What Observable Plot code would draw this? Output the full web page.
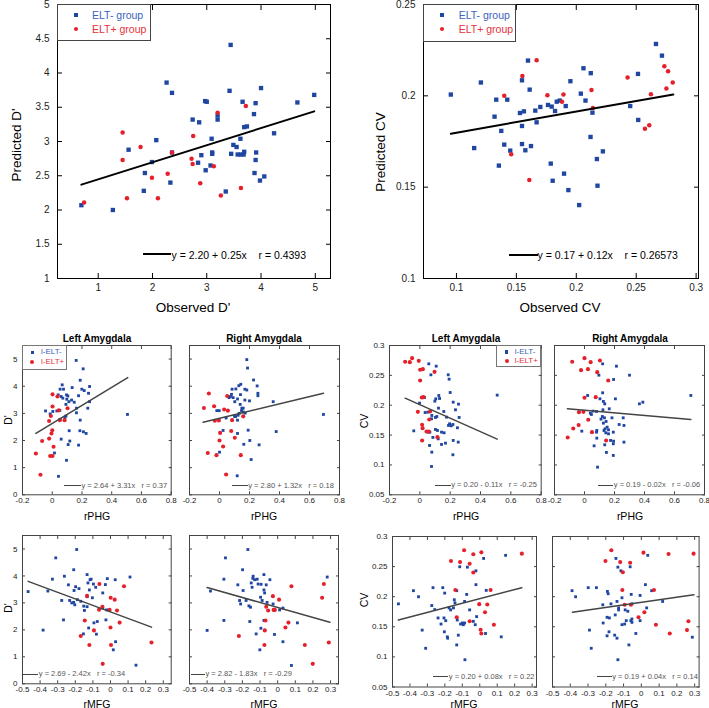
<!DOCTYPE html>
<html><head><meta charset="utf-8">
<script src="https://cdn.jsdelivr.net/npm/d3@7"></script>
<script src="https://cdn.jsdelivr.net/npm/@observablehq/plot@0.6"></script>
<style>
body{margin:0;background:#fff;font-family:"Liberation Sans",Arial,sans-serif;}
#root{position:relative;width:709px;height:708px;overflow:hidden;background:#fff;}
.abs{position:absolute;white-space:pre;line-height:1;}
</style></head><body><div id="root"></div>
<script>
// ---------- tick values ----------
const tlXTicks = [1,2,3,4,5];
const tlYTicks = [1,1.5,2,2.5,3,3.5,4,4.5,5];
const trXTicks = [0.1,0.15,0.2,0.25,0.3];
const trYTicks = [0.1,0.15,0.2,0.25];
const phgTicks = [-0.2,0,0.2,0.4,0.6,0.8];
const mfgTicks = [-0.5,-0.4,-0.3,-0.2,-0.1,0,0.1,0.2,0.3];
const dTicks = [0,1,2,3,4,5];
const cvTicks = [0.05,0.1,0.15,0.2,0.25,0.3];

// ---------- top-left: Observed D' vs Predicted D' ----------
const tlBlue = [[0.69,2.07],[1.27,2.00],[1.56,2.88],[1.84,2.28],[1.86,2.54],[1.99,2.70],[2.07,3.02],[2.26,3.86],[2.36,3.71],[2.33,2.40],[2.36,2.84],[2.74,3.32],[2.86,3.28],[2.84,2.69],[2.90,2.80],[2.97,3.59],[3.00,3.58],[2.98,2.58],[3.07,2.65],[3.09,3.04],[3.10,2.84],[3.10,2.82],[3.20,3.38],[3.20,3.32],[3.35,2.27],[3.44,4.41],[3.42,3.74],[3.45,2.82],[3.49,2.95],[3.55,2.92],[3.57,2.81],[3.62,3.04],[3.63,2.81],[3.66,3.58],[3.68,2.81],[3.69,2.85],[3.69,3.21],[3.74,3.22],[3.90,3.56],[3.87,3.40],[3.91,2.84],[3.90,2.73],[3.88,2.54],[3.98,2.43],[4.00,3.78],[4.06,2.49],[4.24,3.12],[4.67,3.57],[4.98,3.68]];
const tlRed = [[0.74,2.11],[1.45,3.13],[1.45,2.73],[1.53,2.17],[1.78,2.92],[1.99,2.47],[2.10,2.17],[2.28,2.53],[2.36,2.84],[2.72,2.75],[2.74,2.67],[2.75,3.08],[2.88,2.39],[3.13,2.64],[3.20,3.42],[3.26,2.21],[3.63,2.32],[3.72,3.52]];
const tlLine = [[0.69,2.37],[4.98,3.44]];

// ---------- top-right: Observed CV vs Predicted CV ----------
const trBlue = [[0.0953,0.2007],[0.1148,0.1714],[0.1204,0.2073],[0.1318,0.1886],[0.1332,0.1979],[0.1354,0.1618],[0.1374,0.1808],[0.1399,0.1733],[0.1424,0.1979],[0.1449,0.1700],[0.1530,0.1906],[0.1547,0.2085],[0.1547,0.1835],[0.1547,0.1736],[0.1563,0.1915],[0.1575,0.1702],[0.1597,0.2193],[0.1611,0.2034],[0.1622,0.1725],[0.1658,0.1919],[0.1669,0.1855],[0.1700,0.1939],[0.1764,0.1950],[0.1787,0.1629],[0.1795,0.1941],[0.1803,0.1535],[0.1823,0.1917],[0.1837,0.1968],[0.1862,0.1974],[0.1898,0.1574],[0.1912,0.1944],[0.1934,0.1484],[0.1951,0.2080],[0.2024,0.1402],[0.2038,0.2012],[0.2060,0.2151],[0.2077,0.1974],[0.2121,0.2124],[0.2119,0.1775],[0.2135,0.1908],[0.2172,0.1654],[0.2177,0.1508],[0.2222,0.1696],[0.2450,0.1944],[0.2515,0.2120],[0.2517,0.1868],[0.2665,0.2284],[0.2715,0.2220]];
const trRed = [[0.1399,0.2000],[0.1457,0.1680],[0.1550,0.2109],[0.1608,0.1539],[0.1669,0.2195],[0.1759,0.2003],[0.1893,0.2007],[0.1881,0.1967],[0.2127,0.2032],[0.2138,0.1934],[0.2428,0.2100],[0.2573,0.1820],[0.2609,0.1839],[0.2623,0.2009],[0.2735,0.2162],[0.2766,0.2135],[0.2752,0.2040],[0.2805,0.2073]];
const trLine = [[0.0953,0.1793],[0.281,0.2007]];

// ---------- P1: Left Amygdala, D' vs rPHG ----------
const p1Blue = [[0.161,4.95],[0.208,4.64],[0.067,4.05],[0.188,4.22],[0.053,3.89],[0.076,3.89],[0.134,3.95],[0.199,3.89],[0.215,3.84],[0.251,3.99],[0.040,3.68],[0.060,3.62],[0.071,3.56],[0.096,3.68],[0.105,3.64],[0.098,3.52],[0.112,3.43],[0.130,3.49],[0.148,3.41],[0.177,3.65],[0.244,3.74],[0.251,3.43],[0.092,3.33],[0.163,3.19],[0.163,3.02],[0.239,3.19],[-0.045,3.09],[-0.014,2.98],[0.004,3.07],[0.031,3.09],[0.051,3.11],[0.085,2.85],[0.092,2.90],[0.053,2.78],[0.188,2.75],[0.506,2.96],[0.114,2.36],[0.186,2.36],[0.210,2.32],[0.228,2.26],[0.060,2.05],[0.118,1.98],[0.107,1.85],[0.177,1.83],[0.015,1.54],[0.096,1.27],[0.042,0.68]];
const p1Red = [[0.002,3.70],[0.035,3.62],[0.002,3.25],[0.044,3.11],[0.103,3.19],[-0.009,2.90],[-0.021,2.72],[0.051,2.75],[0.083,2.75],[0.000,2.38],[-0.005,2.26],[-0.021,2.07],[-0.068,1.98],[0.009,1.77],[-0.014,1.43],[0.002,1.43],[-0.110,1.52],[-0.079,0.74]];
const p1Line = [[-0.110,2.26],[0.508,4.32]];

// ---------- P2: Right Amygdala, D' vs rPHG ----------
const p2Blue = [[0.182,4.98],[0.187,4.67],[0.227,4.23],[0.251,4.01],[0.256,3.74],[0.256,3.65],[0.142,4.07],[0.129,4.02],[0.084,3.89],[0.109,3.90],[0.169,3.89],[0.182,3.86],[0.080,3.70],[0.073,3.62],[0.091,3.58],[0.120,3.53],[0.140,3.69],[0.064,3.58],[0.102,3.43],[0.169,3.49],[0.200,3.46],[0.138,3.33],[0.149,3.19],[0.158,3.19],[0.147,3.10],[0.158,3.05],[0.171,3.01],[0.131,3.00],[0.124,2.93],[0.100,2.89],[0.107,2.88],[0.044,2.83],[-0.018,3.10],[-0.002,3.10],[0.358,3.43],[0.693,2.96],[0.120,2.75],[0.024,2.37],[0.191,2.38],[0.378,2.33],[0.120,2.26],[0.202,2.00],[0.162,1.86],[0.264,1.84],[0.000,1.57],[0.211,1.30],[0.118,0.70]];
const p2Red = [[-0.071,3.73],[0.051,3.64],[-0.036,3.26],[-0.104,3.20],[0.031,3.14],[0.056,3.10],[0.158,2.89],[-0.004,2.74],[-0.031,2.73],[0.084,2.75],[0.004,2.28],[0.078,2.35],[0.102,2.10],[0.000,2.00],[0.024,1.78],[-0.078,1.54],[-0.020,1.46],[0.142,1.46],[0.044,0.75]];
const p2Line = [[-0.109,2.67],[0.693,3.74]];

// ---------- P3: Left Amygdala, CV vs rPHG ----------
const p3Blue = [[0.059,0.2693],[0.108,0.2654],[0.073,0.2509],[0.187,0.2509],[0.193,0.2436],[0.200,0.2213],[0.125,0.2163],[0.130,0.2113],[0.105,0.2107],[0.099,0.2068],[0.031,0.2129],[0.220,0.2051],[0.255,0.2018],[0.510,0.2169],[-0.002,0.2035],[0.123,0.1951],[0.235,0.1923],[0.158,0.1895],[0.035,0.1878],[0.053,0.1884],[0.079,0.1828],[0.112,0.1811],[0.103,0.1795],[0.077,0.1772],[0.176,0.1800],[0.259,0.1795],[0.196,0.1689],[0.207,0.1655],[0.218,0.1677],[0.189,0.1661],[0.248,0.1622],[-0.040,0.1571],[0.103,0.1594],[0.116,0.1577],[0.066,0.1549],[0.055,0.1549],[0.160,0.1538],[0.143,0.1549],[0.086,0.1460],[0.121,0.1437],[0.220,0.1410],[0.253,0.1382],[0.169,0.1365],[0.143,0.1343],[0.064,0.1326],[0.079,0.1214],[0.218,0.1170],[0.077,0.0974]];
const p3Red = [[-0.097,0.2727],[-0.066,0.2721],[-0.051,0.2788],[-0.007,0.2743],[0.002,0.2593],[0.020,0.2604],[0.097,0.2559],[0.002,0.2414],[0.013,0.2129],[0.024,0.2135],[-0.013,0.1889],[0.068,0.1895],[0.062,0.1761],[0.015,0.1672],[0.018,0.1616],[0.044,0.1560],[0.015,0.1410],[0.116,0.1465],[0.059,0.1560]];
const p3Line = [[-0.097,0.2118],[0.510,0.1432]];

// ---------- P4: Right Amygdala, CV vs rPHG ----------
const p4Blue = [[0.121,0.2693],[0.213,0.2654],[0.300,0.2503],[0.096,0.2503],[0.194,0.2431],[0.121,0.2208],[0.021,0.2163],[0.206,0.2107],[0.103,0.2107],[0.126,0.2063],[0.135,0.2023],[0.366,0.2023],[0.389,0.2051],[0.709,0.2163],[0.165,0.1940],[0.123,0.1923],[0.057,0.1901],[0.080,0.1895],[0.039,0.1867],[0.046,0.1845],[0.119,0.1811],[0.133,0.1789],[0.183,0.1789],[0.258,0.1789],[0.110,0.1767],[0.144,0.1728],[0.126,0.1700],[0.231,0.1677],[0.263,0.1661],[0.151,0.1633],[0.137,0.1605],[0.160,0.1588],[0.130,0.1577],[0.082,0.1577],[0.080,0.1549],[-0.018,0.1566],[0.142,0.1538],[0.160,0.1521],[0.192,0.1549],[0.082,0.1449],[0.174,0.1410],[0.194,0.1398],[0.263,0.1382],[0.135,0.1337],[0.192,0.1354],[0.064,0.1320],[0.146,0.1209],[0.192,0.1159],[0.087,0.0963]];
const p4Red = [[-0.082,0.2727],[0.000,0.2788],[0.041,0.2721],[0.103,0.2749],[-0.023,0.2587],[0.023,0.2604],[0.085,0.2554],[0.158,0.2414],[0.000,0.2124],[0.075,0.2135],[-0.037,0.1884],[-0.007,0.1889],[0.025,0.1756],[-0.039,0.1667],[-0.075,0.1611],[0.050,0.1549],[-0.112,0.1460],[0.144,0.1410]];
const p4Line = [[-0.114,0.194],[0.709,0.1761]];

// ---------- P5: Left Amygdala, D' vs rMFG ----------
const p5Blue = [[-0.192,4.98],[-0.311,4.67],[-0.209,4.23],[-0.262,3.99],[-0.330,3.88],[-0.133,4.05],[-0.116,3.86],[-0.110,3.88],[-0.018,3.90],[0.027,3.86],[0.111,3.96],[-0.239,3.67],[-0.198,3.60],[-0.179,3.53],[-0.128,3.74],[-0.097,3.70],[-0.084,3.58],[-0.029,3.68],[-0.120,3.48],[-0.207,3.46],[-0.356,3.44],[-0.468,3.42],[-0.044,3.37],[-0.133,3.23],[-0.103,3.19],[-0.277,3.09],[-0.232,3.09],[-0.188,3.12],[-0.220,3.00],[-0.203,2.93],[-0.209,3.02],[-0.169,3.06],[-0.152,2.88],[-0.133,2.86],[-0.044,2.81],[-0.148,2.72],[-0.022,2.74],[-0.267,2.37],[-0.075,2.31],[-0.026,2.37],[-0.094,2.26],[-0.154,1.85],[-0.124,2.07],[-0.080,1.84],[0.029,1.56],[0.016,1.26],[-0.383,1.99],[0.145,0.69]];
const p5Red = [[-0.063,3.70],[0.077,3.62],[-0.133,3.26],[0.001,3.19],[0.024,3.12],[-0.046,2.86],[-0.065,2.75],[-0.005,2.74],[0.037,2.72],[-0.146,2.35],[0.052,2.27],[0.000,2.09],[-0.094,1.98],[-0.169,1.77],[-0.120,1.44],[0.003,1.44],[0.233,1.53],[-0.044,0.74]];
const p5Line = [[-0.468,3.80],[0.233,2.10]];

// ---------- P6: Right Amygdala, D' vs rMFG ----------
const p6Blue = [[-0.169,4.98],[-0.296,4.67],[-0.199,4.23],[-0.139,3.99],[-0.305,3.88],[-0.078,4.05],[-0.150,3.74],[-0.141,3.91],[-0.130,3.86],[-0.116,3.88],[-0.044,3.86],[-0.111,3.70],[-0.094,3.69],[-0.065,3.67],[-0.226,3.67],[-0.145,3.58],[-0.196,3.46],[-0.381,3.44],[-0.078,3.48],[-0.074,3.37],[-0.097,3.21],[0.281,3.96],[-0.216,3.09],[-0.179,3.09],[-0.210,2.96],[-0.163,2.89],[-0.154,2.84],[-0.088,3.09],[-0.060,3.02],[-0.026,2.96],[0.011,2.74],[0.030,2.81],[-0.305,2.35],[-0.158,2.31],[-0.078,2.35],[-0.072,2.35],[-0.095,2.06],[-0.122,1.85],[-0.018,1.83],[0.030,1.56],[-0.101,1.26],[0.112,2.26],[-0.400,1.98],[0.078,0.68]];
const p6Red = [[0.262,3.70],[0.078,3.62],[0.252,3.19],[-0.027,3.25],[0.008,3.12],[-0.065,2.86],[-0.054,2.72],[-0.023,2.74],[-0.016,2.74],[-0.069,2.35],[0.061,2.27],[0.044,2.09],[-0.073,1.98],[-0.220,1.77],[-0.075,1.44],[0.154,1.44],[0.290,1.53],[0.199,0.74]];
const p6Line = [[-0.400,3.57],[0.296,2.28]];

// ---------- P7: Left Amygdala, CV vs rMFG ----------
const p7Blue = [[0.148,0.2687],[0.022,0.2636],[-0.022,0.2430],[-0.115,0.2497],[-0.071,0.2491],[-0.022,0.2200],[-0.380,0.2100],[-0.268,0.2150],[-0.212,0.2150],[-0.132,0.2100],[0.037,0.2105],[-0.351,0.1999],[-0.201,0.2060],[-0.075,0.2038],[-0.087,0.1921],[-0.146,0.1949],[-0.142,0.1898],[-0.275,0.1853],[-0.466,0.1881],[-0.258,0.1786],[-0.176,0.1814],[-0.167,0.1781],[-0.151,0.1814],[-0.058,0.1781],[-0.239,0.1647],[-0.205,0.1647],[-0.222,0.1546],[-0.195,0.1602],[-0.129,0.1613],[-0.094,0.1535],[-0.100,0.1563],[-0.110,0.1546],[-0.087,0.1563],[-0.037,0.1591],[-0.026,0.1535],[-0.018,0.1669],[0.033,0.1389],[-0.330,0.1445],[-0.203,0.1417],[-0.186,0.1333],[-0.184,0.1311],[-0.123,0.1361],[0.123,0.1333],[-0.132,0.1199],[-0.310,0.1143],[-0.085,0.0953]];
const p7Red = [[-0.090,0.2771],[-0.037,0.2704],[0.009,0.2737],[-0.165,0.2592],[-0.113,0.2575],[-0.058,0.2547],[-0.037,0.2402],[0.241,0.2715],[-0.140,0.2111],[0.062,0.2111],[-0.003,0.1876],[0.043,0.1870],[0.030,0.1742],[-0.132,0.1658],[-0.058,0.1591],[0.005,0.1451],[0.009,0.1389],[0.081,0.1535]];
const p7Line = [[-0.466,0.1613],[0.241,0.2150]];

// ---------- P8: Right Amygdala, CV vs rMFG ----------
const p8Blue = [[-0.143,0.2636],[0.036,0.2687],[-0.063,0.2497],[-0.132,0.2491],[-0.115,0.2430],[-0.390,0.2100],[-0.299,0.2150],[-0.253,0.2150],[-0.191,0.2088],[-0.187,0.2049],[-0.370,0.1999],[-0.109,0.1982],[0.023,0.2200],[0.058,0.2100],[-0.057,0.2038],[-0.007,0.2021],[-0.137,0.1921],[-0.217,0.1865],[-0.171,0.1881],[-0.053,0.1881],[0.120,0.1921],[0.030,0.1814],[-0.128,0.1814],[-0.128,0.1781],[-0.091,0.1781],[-0.076,0.1758],[-0.193,0.1658],[-0.215,0.1563],[-0.180,0.1647],[-0.147,0.1697],[-0.085,0.1602],[-0.094,0.1546],[-0.109,0.1535],[-0.059,0.1602],[-0.053,0.1574],[-0.053,0.1630],[-0.007,0.1602],[-0.292,0.1445],[-0.182,0.1417],[-0.193,0.1350],[-0.150,0.1361],[-0.031,0.1389],[-0.137,0.1311],[-0.070,0.1199],[-0.282,0.1143],[-0.132,0.0953],[0.287,0.1327]];
const p8Red = [[-0.202,0.2592],[-0.169,0.2771],[-0.119,0.2575],[-0.104,0.2407],[-0.063,0.2564],[0.012,0.2732],[0.153,0.2709],[0.294,0.2715],[-0.107,0.2111],[0.071,0.2111],[-0.094,0.1865],[-0.059,0.1865],[0.017,0.1742],[-0.016,0.1658],[0.265,0.1591],[0.257,0.1445],[0.082,0.1535],[0.160,0.1389]];
const p8Line = [[-0.388,0.1742],[0.296,0.2032]];

// ---------- texts ----------
const eqTL = "y = 2.20 + 0.25x    r = 0.4393";
const eqTR = "y = 0.17 + 0.12x    r = 0.26573";
const eqSmall = ["y = 2.64 + 3.31x   r = 0.37","y = 2.80 + 1.32x   r = 0.18","y = 0.20 - 0.11x   r = -0.25","y = 0.19 - 0.02x   r = -0.06",
                 "y = 2.69 - 2.42x   r = -0.34","y = 2.82 - 1.83x   r = -0.29","y = 0.20 + 0.08x   r = 0.22","y = 0.19 + 0.04x   r = 0.14"];

const BLUE = "#1f46a0", RED = "#e5202b", BLUE_T = "#3b62bd", RED_T = "#e5323a";
const FONT = "Liberation Sans, Arial, sans-serif";
const root = document.getElementById("root");
const fmt = d => String(d);
const X = d => d[0], Y = d => d[1];

function txt(s, x, y, o = {}) {
  const el = document.createElement("div");
  el.className = "abs";
  el.textContent = s;
  el.style.fontSize = (o.fs || 10) + "px";
  el.style.color = o.color || "#000";
  if (o.bold) el.style.fontWeight = "bold";
  el.style.left = x + "px"; el.style.top = y + "px";
  const tr = [];
  if (o.anchor === "middle") tr.push("translateX(-50%)");
  tr.push("translateY(-50%)");
  if (o.rotate) tr.push("rotate(-90deg)");
  el.style.transform = tr.join(" ");
  root.appendChild(el);
  return el;
}
function box(x, y, w, h, style) {
  const el = document.createElement("div");
  el.style.position = "absolute";
  el.style.left = x + "px"; el.style.top = y + "px";
  el.style.width = w + "px"; el.style.height = h + "px";
  Object.assign(el.style, style);
  root.appendChild(el);
  return el;
}

function panel(p) {
  const ml = 45, mr = 12, mt = 12, mb = 28;
  const w = p.x1 - p.x0, h = p.y1 - p.y0, tl = p.tick, col = p.frameColor;
  const marks = [
    Plot.axisX({ticks: p.xTicks, anchor: "bottom", tickSize: 0, tickPadding: p.padX, tickFormat: fmt, label: null, fontSize: p.fs, color: "#222"}),
    Plot.axisX({ticks: p.xTicks, anchor: "bottom", tickSize: tl, dy: -tl, tickFormat: () => "", label: null, color: col}),
    Plot.axisX({ticks: p.xTicks, anchor: "top", tickSize: tl, dy: tl, tickFormat: () => "", label: null, color: col}),
    Plot.axisY({ticks: p.yTicks, anchor: "left", tickSize: tl, dx: tl, tickFormat: () => "", label: null, color: col}),
    Plot.axisY({ticks: p.yTicks, anchor: "right", tickSize: tl, dx: -tl, tickFormat: () => "", label: null, color: col}),
    Plot.dot(p.blue, {x: X, y: Y, symbol: "square", r: p.rb, fill: BLUE, stroke: "none"}),
    Plot.dot(p.red, {x: X, y: Y, symbol: "circle", r: p.rr, fill: RED, stroke: "none"}),
    Plot.line(p.line, {x: X, y: Y, stroke: p.lineColor, strokeWidth: p.lineWidth}),
    Plot.frame({stroke: col})
  ];
  if (p.showY !== false) {
    marks.unshift(Plot.axisY({ticks: p.yTicks, anchor: "left", tickSize: 0, tickPadding: p.padY, tickFormat: fmt, label: null, fontSize: p.fs, color: "#222"}));
  }
  const chart = Plot.plot({
    width: w + ml + mr, height: h + mt + mb,
    marginLeft: ml, marginRight: mr, marginTop: mt, marginBottom: mb,
    style: {background: "transparent", overflow: "visible", fontFamily: FONT},
    x: {domain: p.xDomain}, y: {domain: p.yDomain},
    marks
  });
  chart.style.position = "absolute";
  chart.style.left = (p.x0 - ml) + "px";
  chart.style.top = (p.y0 - mt) + "px";
  root.appendChild(chart);
}

// ---------- big panels ----------
const big = {tick: 5, frameColor: "#000", fs: 10, padX: 5, padY: 8, rb: 2.45, rr: 2.25, lineColor: "#000", lineWidth: 2};
panel({...big, x0: 57, x1: 330, y0: 4, y1: 278, xDomain: [0.25, 5.28], yDomain: [1, 5], xTicks: tlXTicks, yTicks: tlYTicks, blue: tlBlue, red: tlRed, line: tlLine});
panel({...big, x0: 423, x1: 698, y0: 4, y1: 278, xDomain: [0.0725, 0.302], yDomain: [0.1, 0.25], xTicks: trXTicks, yTicks: trYTicks, blue: trBlue, red: trRed, line: trLine});

// ---------- small panels ----------
const sm = {tick: 3, frameColor: "#444", fs: 8, padX: 3, padY: 5, rb: 1.6, rr: 2.05, lineColor: "#444", lineWidth: 1.5};
const phg = {xDomain: [-0.2, 0.8], xTicks: phgTicks};
const mfgD = {xDomain: [-0.5, 0.345], xTicks: mfgTicks};
const mfgC = {xDomain: [-0.5, 0.325], xTicks: mfgTicks};
const dY = {yDomain: [0, 5.5], yTicks: dTicks};
const cY = {yDomain: [0.05, 0.3], yTicks: cvTicks};
const small = [
  {x0: 22.3, x1: 171, y0: 345, y1: 494.3, ...phg, ...dY, blue: p1Blue, red: p1Red, line: p1Line, eq: [64.3, 81, 486]},
  {x0: 189, x1: 339, y0: 345, y1: 494.3, ...phg, ...dY, showY: false, blue: p2Blue, red: p2Red, line: p2Line, eq: [232.3, 247.7, 486]},
  {x0: 389.3, x1: 541, y0: 345, y1: 494.3, ...phg, ...cY, blue: p3Blue, red: p3Red, line: p3Line, eq: [435, 450.7, 485.3]},
  {x0: 554, x1: 704, y0: 345, y1: 494.3, ...phg, ...cY, showY: false, blue: p4Blue, red: p4Red, line: p4Line, eq: [597.7, 613.3, 485.3]},
  {x0: 22.3, x1: 171, y0: 535, y1: 683.3, ...mfgD, ...dY, blue: p5Blue, red: p5Red, line: p5Line, eq: [23.3, 38.3, 674.3]},
  {x0: 189, x1: 338, y0: 535, y1: 683.3, ...mfgD, ...dY, showY: false, blue: p6Blue, red: p6Red, line: p6Line, eq: [190.7, 205, 674.3]},
  {x0: 391.7, x1: 535.7, y0: 536, y1: 686.5, ...mfgC, ...cY, blue: p7Blue, red: p7Red, line: p7Line, eq: [432.7, 448.3, 677]},
  {x0: 551.7, x1: 698.3, y0: 536, y1: 686.5, ...mfgC, ...cY, showY: false, blue: p8Blue, red: p8Red, line: p8Line, eq: [596.7, 611.7, 677]}
];
small.forEach((s, i) => {
  panel({...sm, ...s});
  const [a, b, y] = s.eq;
  box(a, y - 0.75, b - a, 0, {borderTop: "1.5px solid #444"});
  txt(eqSmall[i], b + 0.5, y, {fs: 7.5, color: "#555"});
});

// ---------- big panel equation legends ----------
box(142.7, 253.3, 28, 0, {borderTop: "2px solid #000"});
txt(eqTL, 171.5, 254.5, {fs: 10.5});
box(509, 254, 28.5, 0, {borderTop: "2px solid #000"});
txt(eqTR, 537.5, 255.2, {fs: 10.5});

// ---------- big panel group legends ----------
function bigLegend(x, y, w, h, mx, tx, y1, y2) {
  box(x, y, w, h, {border: "1px solid #444", background: "#fff", boxSizing: "border-box"});
  box(mx - 2.2, y1 - 2.2, 4.4, 4.4, {background: BLUE});
  box(mx - 2.2, y2 - 2.2, 4.4, 4.4, {background: RED, borderRadius: "50%"});
  txt("ELT- group", tx, y1, {fs: 10.5, color: BLUE_T});
  txt("ELT+ group", tx, y2, {fs: 10.5, color: RED_T});
}
bigLegend(57, 4, 94, 37, 76, 92, 15.3, 29);
bigLegend(423, 4, 93, 38, 442, 458.7, 14.7, 28.7);

// ---------- small panel group legends ----------
function smallLegend(x, y, w, h, mx, tx, y1, y2) {
  box(x, y, w, h, {border: "1px solid #777", background: "#fff", boxSizing: "border-box"});
  box(mx - 1.6, y1 - 1.6, 3.2, 3.2, {background: BLUE});
  box(mx - 2, y2 - 2, 4, 4, {background: RED, borderRadius: "50%"});
  txt("l-ELT-", tx, y1, {fs: 8, color: BLUE_T});
  txt("l-ELT+", tx, y2, {fs: 8, color: RED_T});
}
smallLegend(22.3, 345, 44.5, 24.5, 32.3, 41, 352.3, 362.3);
smallLegend(496.3, 345, 44.7, 21.5, 506.7, 514.7, 352, 360.5);

// ---------- axis titles ----------
txt("Observed D'", 193, 308, {fs: 13.5, anchor: "middle"});
txt("Observed CV", 560, 308, {fs: 13.5, anchor: "middle"});
txt("Predicted D'", 17, 145, {fs: 13.5, anchor: "middle", rotate: true});
txt("Predicted CV", 380.5, 152, {fs: 13.5, anchor: "middle", rotate: true});

[[97, "Left Amygdala"], [264, "Right Amygdala"], [466, "Left Amygdala"], [630, "Right Amygdala"]]
  .forEach(([x, s]) => txt(s, x, 338.7, {fs: 10, bold: true, anchor: "middle"}));
[97, 264, 466, 630].forEach(x => txt("rPHG", x, 515.7, {fs: 10.5, anchor: "middle"}));
[97, 264, 464, 625].forEach(x => txt("rMFG", x, 703.5, {fs: 10.5, anchor: "middle"}));
txt("D'", 7.5, 420, {fs: 10.5, anchor: "middle", rotate: true});
txt("D'", 7.5, 608, {fs: 10.5, anchor: "middle", rotate: true});
txt("CV", 364, 421, {fs: 10.5, anchor: "middle", rotate: true});
txt("CV", 364, 600, {fs: 10.5, anchor: "middle", rotate: true});
</script></body></html>
